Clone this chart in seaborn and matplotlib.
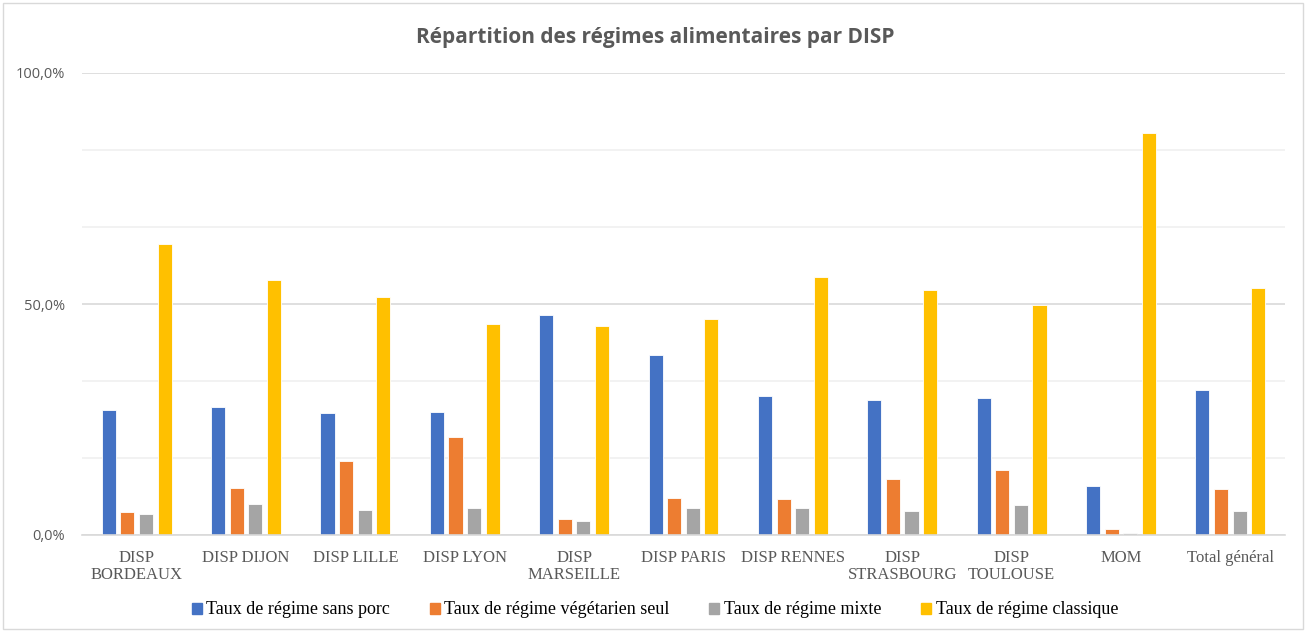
import matplotlib
matplotlib.use("Agg")
import matplotlib.pyplot as plt
from matplotlib.patches import Rectangle
from matplotlib.ticker import FuncFormatter, MultipleLocator
import pandas as pd
import seaborn as sns

# données (en %)
categories = ["DISP\nBORDEAUX", "DISP DIJON", "DISP LILLE", "DISP LYON", "DISP\nMARSEILLE",
              "DISP PARIS", "DISP RENNES", "DISP\nSTRASBOURG", "DISP\nTOULOUSE", "MOM",
              "Total général"]
sans_porc = [27.0, 27.6, 26.5, 26.7, 47.7, 38.9, 30.1, 29.2, 29.6, 10.7, 31.3]
vegetarien = [4.9, 10.1, 16.1, 21.3, 3.4, 8.1, 7.7, 12.1, 14.0, 1.4, 9.9]
mixte = [4.6, 6.7, 5.5, 5.9, 3.0, 5.8, 5.8, 5.3, 6.6, 0.5, 5.1]
classique = [62.9, 55.1, 51.6, 45.6, 45.3, 46.8, 55.8, 53.1, 49.7, 87.0, 53.5]

series_names = ["Taux de régime sans porc", "Taux de régime végétarien seul",
                "Taux de régime mixte", "Taux de régime classique"]
colors = ["#4472C4", "#ED7D31", "#A5A5A5", "#FFC000"]

df = pd.DataFrame({
    "DISP": categories,
    series_names[0]: sans_porc,
    series_names[1]: vegetarien,
    series_names[2]: mixte,
    series_names[3]: classique,
})
long = df.melt(id_vars="DISP", var_name="serie", value_name="taux")

sns.set_theme(style="white")
plt.rcParams['font.family'] = ['Liberation Serif', 'DejaVu Sans']

fig = plt.figure(figsize=(13.1, 6.32), dpi=100)
ax = fig.add_axes([82 / 1310, 97 / 632, 1203 / 1310, 462 / 632])

sns.barplot(data=long, x="DISP", y="taux", hue="serie", hue_order=series_names,
            palette=colors, saturation=1, width=0.68, gap=0.24,
            edgecolor="white", linewidth=0.6, ax=ax)

ax.set_ylim(0, 100)
ax.set_xlim(-0.5, len(categories) - 0.5)
ax.yaxis.set_major_locator(MultipleLocator(50))
ax.yaxis.set_minor_locator(MultipleLocator(100 / 6))
ax.yaxis.set_major_formatter(FuncFormatter(lambda v, p: f"{v:.1f}%".replace(".", ",")))
ax.grid(axis="y", which="major", color="#d9d9d9", linewidth=1.2, zorder=0)
ax.grid(axis="y", which="minor", color="#f0f0f0", linewidth=1.2, zorder=0)
ax.set_axisbelow(True)
ax.tick_params(axis="y", which="both", length=0, pad=12, labelsize=10.5, labelcolor="#595959")
for lab in ax.get_yticklabels():
    lab.set_fontfamily(["Open Sans", "DejaVu Sans"])
ax.tick_params(axis="x", length=0, pad=11, labelsize=12, labelcolor="#595959")
for lab in ax.get_xticklabels():
    lab.set_linespacing(1.05)
ax.set_xlabel("")
ax.set_ylabel("")
for s in ["top", "right", "left"]:
    ax.spines[s].set_visible(False)
ax.spines["bottom"].set_color("#d9d9d9")
ax.spines["bottom"].set_linewidth(1.2)

ax.legend_.remove()
handles = [Rectangle((0, 0), 1, 1, color=c) for c in colors]
fig.legend(handles, series_names, loc="center", bbox_to_anchor=(0.5, 22 / 632),
           ncol=4, frameon=False, fontsize=13, handlelength=0.55, handleheight=0.55,
           handletextpad=0.25, columnspacing=2.2, labelcolor="#000000")

fig.text(0.5, 1 - 38 / 632, "Répartition des régimes alimentaires par DISP",
         ha="center", va="center", fontsize=15, fontweight="bold", color="#595959",
         family=["Open Sans", "DejaVu Sans"])

fig.patches.append(Rectangle((3 / 1310, 3 / 632), 1300 / 1310, 626 / 632,
                             transform=fig.transFigure, fill=False,
                             edgecolor="#d9d9d9", linewidth=1))

fig.savefig("out.png", dpi=100)
